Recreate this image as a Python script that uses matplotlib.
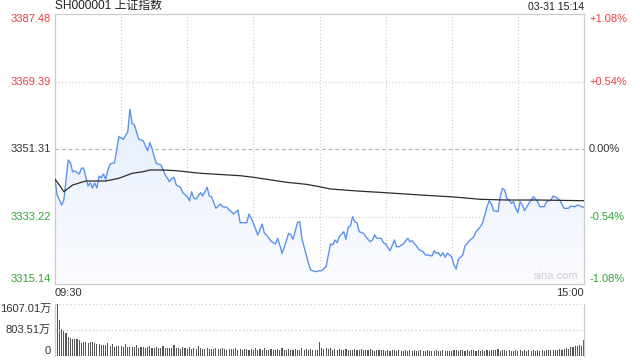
import numpy as np
import matplotlib
matplotlib.use("Agg")
import matplotlib.pyplot as plt
from matplotlib.colors import LinearSegmentedColormap

plt.rcParams['font.family'] = ['Liberation Sans', 'Noto Sans CJK SC', 'DejaVu Sans']

# 分时数据 (分钟序号 0..240, 09:30 -> 15:00)
price_min = [0, 1, 3, 4, 6, 7, 8, 9, 11, 12, 13, 15, 16, 17, 18, 19, 20, 21, 22, 23,
             24, 25, 27, 28, 29, 30, 31, 33, 34, 35, 36, 37, 38, 40, 42, 43, 44, 45, 46, 48,
             49, 50, 52, 53, 54, 55, 57, 58, 60, 61, 62, 63, 64, 66, 67, 69, 70, 71, 73, 75,
             76, 78, 79, 80, 81, 83, 84, 87, 88, 89, 90, 92, 94, 95, 96, 98, 100, 101, 102, 103,
             104, 106, 107, 108, 110, 111, 112, 114, 115, 116, 118, 120, 121, 123, 124, 125, 126, 127, 128, 129,
             131, 132, 133, 134, 135, 136, 137, 138, 140, 141, 143, 144, 145, 146, 148, 149, 150, 152, 154, 155,
             156, 158, 160, 161, 162, 164, 165, 167, 168, 169, 171, 172, 173, 174, 175, 176, 177, 178, 179, 180,
             181, 182, 183, 185, 186, 188, 190, 191, 193, 194, 195, 196, 197, 198, 199, 201, 202, 203, 204, 205,
             206, 207, 208, 209, 210, 211, 212, 213, 215, 217, 219, 220, 222, 223, 225, 226, 228, 229, 231, 233,
             234, 236, 237, 239, 240]
price_val = [3343.19, 3338.98, 3336.31, 3337.64, 3348.36, 3347.56, 3345.23, 3345.41, 3344.61, 3346.14,
             3346.22, 3341.40, 3342.28, 3340.86, 3342.20, 3340.86, 3344.08, 3343.54, 3344.61, 3343.19,
             3345.68, 3347.29, 3347.64, 3351.04, 3354.60, 3354.26, 3353.91, 3355.94, 3361.95, 3358.20,
             3357.74, 3355.94, 3353.91, 3353.53, 3350.85, 3353.00, 3351.50, 3349.25, 3347.48, 3347.02,
             3345.87, 3344.34, 3342.55, 3343.46, 3343.73, 3341.66, 3341.05, 3339.60, 3338.53, 3337.46,
             3339.87, 3338.10, 3337.91, 3339.60, 3338.72, 3341.05, 3338.72, 3338.53, 3335.42, 3336.57,
             3335.85, 3335.69, 3334.97, 3334.51, 3333.89, 3334.97, 3331.56, 3331.56, 3333.89, 3332.74,
             3331.40, 3328.27, 3331.21, 3328.72, 3328.27, 3326.66, 3325.86, 3327.38, 3325.59, 3323.36,
             3324.97, 3328.72, 3328.27, 3327.12, 3331.56, 3331.83, 3327.38, 3322.91, 3320.68, 3318.89,
             3318.43, 3318.70, 3318.70, 3319.77, 3322.91, 3325.86, 3325.59, 3326.93, 3326.20, 3327.81,
             3329.15, 3327.12, 3330.33, 3330.68, 3333.17, 3331.83, 3331.56, 3329.15, 3328.72, 3327.81,
             3326.47, 3326.93, 3328.27, 3327.38, 3327.38, 3326.20, 3325.86, 3324.06, 3326.93, 3325.13,
             3325.13, 3325.86, 3327.38, 3326.47, 3326.74, 3325.32, 3324.44, 3323.79, 3322.91, 3322.91,
             3322.64, 3324.06, 3323.36, 3323.53, 3322.64, 3323.53, 3322.29, 3323.36, 3322.91, 3322.45,
             3320.23, 3319.16, 3321.76, 3322.91, 3325.32, 3326.74, 3327.81, 3329.15, 3330.49, 3331.56,
             3333.63, 3335.85, 3337.46, 3336.57, 3334.78, 3334.51, 3338.53, 3340.78, 3340.32, 3338.10,
             3337.64, 3336.76, 3337.19, 3335.42, 3334.24, 3337.19, 3336.31, 3334.78, 3336.76, 3338.53,
             3337.19, 3335.85, 3335.85, 3337.19, 3337.64, 3338.72, 3338.10, 3337.64, 3335.42, 3335.42,
             3336.04, 3335.85, 3336.31, 3335.85, 3335.69]

avg_min = [0, 2, 4, 8, 14, 23, 29, 35, 40, 43, 49, 55, 66, 84, 90, 105, 114, 120, 125, 137,
           150, 166, 181, 193, 205, 220, 239, 240]
avg_val = [3343.19, 3341.66, 3339.87, 3341.66, 3342.74, 3342.74, 3343.46, 3344.80, 3345.23, 3345.68,
           3345.68, 3345.50, 3344.80, 3344.16, 3343.73, 3342.39, 3341.85, 3341.21, 3340.59, 3340.06,
           3339.60, 3338.98, 3338.45, 3337.83, 3337.64, 3337.64, 3337.46, 3337.46]

# 成交量 (万)
volume = [566, 1600, 1112, 834, 803, 720, 578, 556, 525, 515,
          515, 494, 392, 442, 422, 392, 422, 442, 392, 360,
          360, 340, 345, 340, 392, 320, 370, 288, 300, 310,
          300, 290, 360, 270, 265, 275, 280, 330, 250, 270,
          265, 260, 290, 320, 250, 245, 270, 255, 240, 300,
          250, 260, 245, 235, 330, 240, 250, 230, 280, 240,
          225, 270, 230, 245, 220, 300, 235, 225, 215, 260,
          230, 220, 210, 250, 215, 205, 240, 210, 200, 230,
          215, 205, 245, 200, 210, 195, 230, 205, 190, 225,
          200, 260, 195, 210, 190, 240, 200, 185, 215, 195,
          185, 220, 190, 250, 200, 185, 230, 190, 180, 210,
          195, 185, 240, 190, 205, 180, 215, 185, 175, 200,
          430, 260, 230, 250, 215, 235, 200, 210, 190, 220,
          195, 185, 230, 190, 200, 175, 215, 185, 180, 205,
          175, 190, 170, 210, 180, 165, 195, 175, 170, 200,
          165, 180, 160, 190, 170, 160, 185, 165, 155, 180,
          160, 170, 150, 185, 160, 150, 175, 155, 150, 170,
          150, 165, 145, 180, 155, 140, 170, 150, 145, 165,
          150, 175, 190, 160, 170, 185, 155, 195, 165, 180,
          170, 160, 185, 150, 175, 165, 200, 160, 190, 170,
          175, 210, 160, 185, 170, 155, 180, 165, 150, 175,
          160, 185, 155, 170, 150, 180, 160, 175, 155, 170,
          165, 180, 160, 175, 185, 170, 190, 200, 185, 210,
          200, 220, 240, 230, 270, 280, 300, 320, 340, 300,
          494]

price_ticks = [3387.48, 3369.39, 3351.31, 3333.22, 3315.14]
pct_labels = ['+1.08%', '+0.54%', '0.00%', '-0.54%', '-1.08%']
vol_ticks = [1607.01, 803.51, 0]
vol_labels = ['1607.01万', '803.51万', '0']
title = 'SH000001 上证指数'
stamp = '03-31 15:14'

RED = '#f03c3c'
GREEN = '#2ea82e'
DARK = '#333333'
GRID = '#cccccc'
tick_colors = [RED, RED, DARK, GREEN, GREEN]
FS = 8

W, H = 640, 360
fig = plt.figure(figsize=(W / 100, H / 100), dpi=100)
ax = fig.add_axes([55 / W, (H - 284) / H, 529 / W, 270 / H])
axv = fig.add_axes([55 / W, (H - 356) / H, 529 / W, 52 / H])

lo, hi = price_ticks[-1], price_ticks[0]

# gradient fill under the price line
poly = ax.fill_between(price_min, price_val, lo, color='none', lw=0)
cmap = LinearSegmentedColormap.from_list('fade', ['#fbfcff', '#d9e6fb'])
grad = np.linspace(0, 1, 256).reshape(-1, 1)
im = ax.imshow(grad, extent=[0, 240, lo, hi], aspect='auto', cmap=cmap,
               origin='lower', zorder=1)
im.set_clip_path(poly.get_paths()[0], transform=ax.transData)

ax.plot(price_min, price_val, color='#5b93ec', lw=1.0, zorder=3)
ax.plot(avg_min, avg_val, color='#2b2b2b', lw=0.9, zorder=4)

ax.set_xlim(0, 240)
ax.set_ylim(lo, hi)
for x in range(30, 240, 30):
    ax.axvline(x, color=GRID, lw=0.8, ls=(0, (1, 2)), zorder=0)
for i, v in enumerate(price_ticks):
    if i in (1, 3):
        ax.axhline(v, color=GRID, lw=0.8, ls=(0, (1, 2)), zorder=0)
    elif i == 2:
        ax.axhline(v, color='#aaaaaa', lw=0.8, ls=(0, (3, 3)), zorder=0)

ax.set_xticks([])
ax.set_yticks([])
for s in ax.spines.values():
    s.set_color(GRID)
    s.set_linewidth(0.9)

tr = ax.get_yaxis_transform()
for i, (v, pl, c) in enumerate(zip(price_ticks, pct_labels, tick_colors)):
    va = 'top' if i == 0 else ('bottom' if i == len(price_ticks) - 1 else 'center')
    ax.text(-4 / 529, v, f'{v:.2f}', transform=tr, ha='right', va=va,
            color=c, fontsize=FS)
    ax.text(1 + 5 / 529, v, pl, transform=tr, ha='left', va=va,
            color=c, fontsize=FS)

ax.text(0.99, 0.012, 'sina.com', transform=ax.transAxes, ha='right', va='bottom',
        color='#cfcfcf', fontsize=8)
ax.text(0, -0.015, '09:30', transform=ax.transAxes, ha='left', va='top',
        color=DARK, fontsize=FS)
ax.text(1, -0.015, '15:00', transform=ax.transAxes, ha='right', va='top',
        color=DARK, fontsize=FS)
ax.text(0, 1.008, title, transform=ax.transAxes, ha='left', va='bottom',
        color='#222222', fontsize=8.6)
ax.text(1, 1.008, stamp, transform=ax.transAxes, ha='right', va='bottom',
        color='#222222', fontsize=7.6)

# volume panel
axv.bar(range(len(volume)), volume, width=0.5, color='#555555', lw=0)
axv.set_xlim(0, 240)
axv.set_ylim(0, vol_ticks[0])
axv.axhline(vol_ticks[0], color=GRID, lw=0.9, ls=(0, (1, 2)))
axv.axhline(vol_ticks[1], color=GRID, lw=0.9, ls=(0, (1, 2)))
axv.set_xticks([])
axv.set_yticks([])
for k in ('top', 'bottom'):
    axv.spines[k].set_visible(False)
for k in ('left', 'right'):
    axv.spines[k].set_color(GRID)
    axv.spines[k].set_linewidth(0.9)
trv = axv.get_yaxis_transform()
for i, (v, lab) in enumerate(zip(vol_ticks, vol_labels)):
    va = 'top' if i == 0 else ('bottom' if i == len(vol_ticks) - 1 else 'center')
    axv.text(-4 / 529, v, lab, transform=trv, ha='right', va=va,
             color=DARK, fontsize=FS)

fig.savefig('out.png', dpi=100)
